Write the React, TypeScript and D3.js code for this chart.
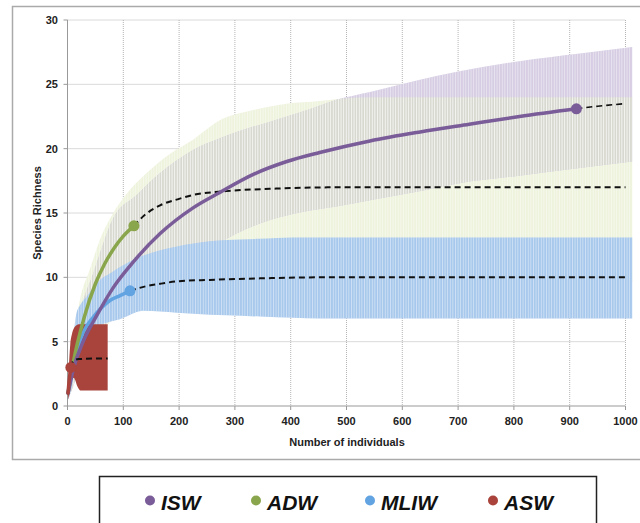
import React from "react";
import * as d3 from "d3";

const iswX = [1, 10, 28, 52, 82, 118, 166, 225, 273, 333, 393, 452, 542, 632, 720, 810, 912];
const iswY = [1, 2.8, 5.0, 7.0, 9.2, 11.2, 13.4, 15.4, 16.6, 18.0, 19.0, 19.7, 20.6, 21.3, 21.9, 22.5, 23.1];
const adwX = [1, 10, 30, 50, 66, 84, 100, 119];
const adwY = [1, 3.3, 6.9, 9.5, 11.0, 12.3, 13.2, 14.0];
const mliwX = [1, 10, 28, 46, 60, 76, 95, 112];
const mliwY = [1, 3.2, 5.7, 6.9, 7.6, 8.2, 8.6, 8.95];
const aswX = [1, 3, 6];
const aswY = [1, 2.0, 3.0];

// extrapolated curves (dashed)
const iswExtX = [912, 950, 1000];
const iswExtY = [23.1, 23.3, 23.5];
const adwExtX = [119, 140, 166, 200, 225, 285, 375, 500, 1000];
const adwExtY = [14.0, 14.9, 15.6, 16.1, 16.4, 16.7, 16.9, 17.0, 17.0];
const mliwExtX = [112, 140, 166, 200, 255, 345, 450, 1000];
const mliwExtY = [8.95, 9.3, 9.5, 9.7, 9.8, 9.92, 10.0, 10.0];
const aswExtX = [6, 9, 13, 20, 72];
const aswExtY = [3.0, 3.4, 3.57, 3.65, 3.7];

// confidence bands
const adwBandX = [1, 10, 22, 40, 58, 82, 106, 142, 184, 225, 273, 333, 393, 452, 494, 550, 1012];
const adwBandUp = [1.5, 5.0, 8.2, 10.6, 12.9, 15.0, 16.5, 18.1, 19.6, 20.7, 22.2, 23.0, 23.5, 23.7, 23.9, 24.0, 24.0];
const adwBandLo = [0.5, 1.5, 3, 4.5, 5.5, 6.8, 7.5, 8.3, 8.8, 9.2, 9.5, 9.6, 9.6, 9.6, 9.6, 9.6, 9.6];
const iswBandX = [1, 10, 22, 46, 82, 124, 166, 225, 273, 303, 363, 423, 482, 542, 626, 700, 810, 918, 1012];
const iswBandUp = [1.5, 4.5, 7.2, 10.3, 14.6, 16.4, 18.1, 19.9, 20.8, 21.3, 22.1, 22.9, 23.8, 24.4, 25.3, 26.0, 26.8, 27.4, 27.9];
const iswBandLo = [0.5, 1.5, 3, 5, 7, 8.8, 10.3, 11.8, 12.7, 13.4, 14.45, 15.1, 15.5, 16.0, 16.65, 17.3, 17.9, 18.5, 19.0];
const mliwBandX = [1, 5, 10, 16, 22, 34, 46, 58, 76, 94, 106, 124, 136, 166, 196, 255, 285, 345, 405, 452, 1012];
const mliwBandUp = [1.5, 3.5, 5.2, 7.2, 7.8, 8.5, 9.2, 9.8, 10.3, 10.8, 11.1, 11.5, 11.7, 12.1, 12.4, 12.8, 12.9, 13.0, 13.1, 13.1, 13.1];
const mliwBandLo = [0.5, 1.0, 2.0, 3.5, 4.5, 5.5, 6.0, 6.3, 6.55, 6.75, 6.95, 7.3, 7.4, 7.35, 7.25, 7.1, 7.05, 6.95, 6.85, 6.8, 6.8];
const aswBandX = [1, 3, 5, 8, 11, 14, 17, 20, 24, 72];
const aswBandUp = [1.5, 3.5, 4.8, 5.6, 6.0, 6.2, 6.3, 6.35, 6.35, 6.35];
const aswBandLo = [0.5, 0.9, 1.4, 2.0, 2.2, 2.0, 1.6, 1.35, 1.2, 1.2];

const xTicks = [0, 100, 200, 300, 400, 500, 600, 700, 800, 900, 1000];
const yTicks = [0, 5, 10, 15, 20, 25, 30];
const legendNames = ["ISW", "ADW", "MLIW", "ASW"];

const colors = { ISW: "#7a5c99", ADW: "#8aa64c", MLIW: "#62a3e2", ASW: "#a9433b" };

const FONT = "'Liberation Sans', Arial, sans-serif";

const App = () => {
  const x = d3.scaleLinear().domain([0, 1000]).range([67.5, 625.5]);
  const y = d3.scaleLinear().domain([0, 30]).range([406, 20]);

  const zip = (xs: number[], ys: number[]) => xs.map((v, i) => [v, ys[i]] as [number, number]);
  const band = (xs: number[], up: number[], lo: number[]) =>
    xs.map((v, i) => ({ x: v, up: up[i], lo: lo[i] }));

  const line = d3
    .line<[number, number]>()
    .x((d) => x(d[0]))
    .y((d) => y(d[1]))
    .curve(d3.curveMonotoneX);

  const area = d3
    .area<{ x: number; up: number; lo: number }>()
    .x((d) => x(d.x))
    .y0((d) => y(d.lo))
    .y1((d) => y(d.up))
    .curve(d3.curveMonotoneX);

  const adwBand = area(band(adwBandX, adwBandUp, adwBandLo)) || "";
  const iswBand = area(band(iswBandX, iswBandUp, iswBandLo)) || "";
  const mliwBand = area(band(mliwBandX, mliwBandUp, mliwBandLo)) || "";
  const aswBand = area(band(aswBandX, aswBandUp, aswBandLo)) || "";

  const curves = [
    { name: "MLIW", obs: zip(mliwX, mliwY), ext: zip(mliwExtX, mliwExtY) },
    { name: "ADW", obs: zip(adwX, adwY), ext: zip(adwExtX, adwExtY) },
    { name: "ISW", obs: zip(iswX, iswY), ext: zip(iswExtX, iswExtY) },
    { name: "ASW", obs: zip(aswX, aswY), ext: zip(aswExtX, aswExtY) },
  ];

  const legendX = [150, 256, 370, 493];

  return (
    <div style={{ position: "fixed", left: 0, top: 0 }}>
      <svg width={640} height={523} style={{ display: "block", background: "#fff" }}>
        <defs>
          <pattern id="stripes" width="2.6" height="10" patternUnits="userSpaceOnUse">
            <rect x="0" y="0" width="0.9" height="10" fill="#ffffff" opacity="0.45" />
          </pattern>
          <clipPath id="adwClip">
            <path d={adwBand} />
          </clipPath>
        </defs>

        {/* outer chart frame */}
        <rect x={12.5} y={6.5} width={700} height={453} fill="#fff" stroke="#aaaaaa" strokeWidth={1.5} />

        {/* grid */}
        {xTicks.slice(1).map((t) => (
          <line key={"gx" + t} x1={x(t)} x2={x(t)} y1={y(30)} y2={y(0)} stroke="#b5b5b5" strokeDasharray="1,1" />
        ))}
        {yTicks.slice(1).map((t) => (
          <line key={"gy" + t} x1={x(0)} x2={x(1000)} y1={y(t)} y2={y(t)} stroke="#b5b5b5" strokeDasharray="1,1" />
        ))}

        {/* bands */}
        <path d={adwBand} fill="#eef3dd" />
        <path d={iswBand} fill="#d6cde3" />
        <path d={iswBand} fill="#d7d8d0" clipPath="url(#adwClip)" />
        <path d={adwBand} fill="url(#stripes)" />
        <path d={iswBand} fill="url(#stripes)" />
        <path d={mliwBand} fill="#a7c8ec" />
        <path d={mliwBand} fill="url(#stripes)" />
        <path d={aswBand} fill="#a8443b" />

        {/* axes */}
        <line x1={x(0)} x2={x(0)} y1={y(30)} y2={y(0)} stroke="#999" strokeWidth={1} />
        <line x1={x(0)} x2={x(1000)} y1={y(0)} y2={y(0)} stroke="#999" strokeWidth={1} />
        {yTicks.map((t) => (
          <g key={"yt" + t}>
            <line x1={x(0) - 4} x2={x(0)} y1={y(t)} y2={y(t)} stroke="#999" />
            <text
              x={58}
              y={y(t)}
              dy="0.35em"
              textAnchor="end"
              fontFamily={FONT}
              fontWeight="bold"
              fontSize={11}
              fill="#222"
            >
              {t}
            </text>
          </g>
        ))}
        {xTicks.map((t) => (
          <g key={"xt" + t}>
            <line x1={x(t)} x2={x(t)} y1={y(0)} y2={y(0) + 4} stroke="#999" />
            <text
              x={x(t)}
              y={425}
              textAnchor="middle"
              fontFamily={FONT}
              fontWeight="bold"
              fontSize={11}
              fill="#222"
            >
              {t}
            </text>
          </g>
        ))}
        <text x={347} y={446} textAnchor="middle" fontFamily={FONT} fontWeight="bold" fontSize={11} fill="#222">
          Number of individuals
        </text>
        <text
          transform={`translate(41, ${(y(0) + y(30)) / 2}) rotate(-90)`}
          textAnchor="middle"
          fontFamily={FONT}
          fontWeight="bold"
          fontSize={11}
          fill="#222"
        >
          Species Richness
        </text>

        {/* curves */}
        {curves.map((c) => (
          <g key={c.name}>
            <path
              d={line(c.ext) || ""}
              fill="none"
              stroke="#111"
              strokeWidth={c.name === "ISW" ? 1.6 : 2}
              strokeDasharray="6,4"
            />
            <path d={line(c.obs) || ""} fill="none" stroke={colors[c.name]} strokeWidth={3.5} strokeLinecap="round" />
            <circle
              cx={x(c.obs[c.obs.length - 1][0])}
              cy={y(c.obs[c.obs.length - 1][1])}
              r={5.5}
              fill={colors[c.name]}
            />
          </g>
        ))}

        {/* legend */}
        <rect x={99.5} y={476.5} width={497} height={70} fill="#fff" stroke="#222" strokeWidth={1.5} />
        {legendNames.map((n, i) => (
          <g key={"lg" + n}>
            <circle cx={legendX[i]} cy={500.5} r={5} fill={colors[n]} />
            <text
              x={legendX[i] + 11}
              y={509.5}
              fontFamily={FONT}
              fontWeight="bold"
              fontStyle="italic"
              fontSize={21}
              fill="#111"
            >
              {n}
            </text>
          </g>
        ))}
      </svg>
    </div>
  );
};

export default App;
